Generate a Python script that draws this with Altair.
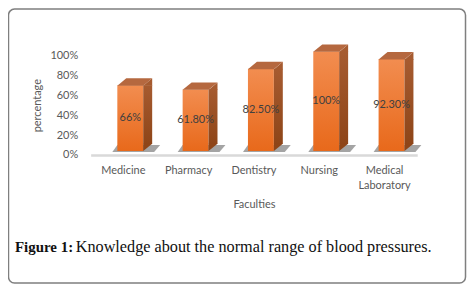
import altair as alt
import pandas as pd

categories = ["Medicine", "Pharmacy", "Dentistry", "Nursing", "Medical Laboratory"]
values = [0.66, 0.618, 0.825, 1.00, 0.923]
value_labels = ["66%", "61.80%", "82.50%", "100%", "92.30%"]
y_ticks = [0, 0.2, 0.4, 0.6, 0.8, 1.0]
caption_bold = "Figure 1:"
caption_text = "Knowledge about the normal range of blood pressures."

df = pd.DataFrame({"faculty": categories, "value": values, "label": value_labels})
one = pd.DataFrame({"a": [0]})

FONT = "Lato"
AX = "#595959"

x_enc = alt.X(
    "faculty:N",
    sort=categories,
    scale=alt.Scale(paddingInner=0, paddingOuter=0),
    axis=alt.Axis(
        title="Faculties", labelAngle=0, ticks=False, domainColor="#D9D9D9",
        domainWidth=2.5, labelPadding=10, labelExpr="split(datum.label, ' ')",
        labelLineHeight=15, titlePadding=8, labelFont=FONT, titleFont=FONT,
        labelFontSize=11, titleFontSize=11, labelColor=AX, titleColor=AX,
        titleFontWeight="normal",
    ),
)
y_axis = alt.Axis(
    title="percentage", values=y_ticks, format="%", grid=False, domain=False,
    ticks=False, labelPadding=13, titlePadding=7, labelFont=FONT, titleFont=FONT,
    labelFontSize=11, titleFontSize=11, labelColor=AX, titleColor=AX,
    titleFontWeight="normal",
)
y_scale = alt.Scale(domain=[0, 1])

base = alt.Chart(df)

shadow = base.mark_point(
    shape="M-0.55,0.05 L1.55,0.05 L1.85,-0.3 L-0.3,-0.3 Z",
    size=1600, filled=True, color="#4a4a4a", opacity=0.5, yOffset=-4,
).encode(x=x_enc, y=alt.Y(datum=0, scale=y_scale, axis=y_axis))

front = base.mark_bar(
    width=26, xOffset=7, yOffset=-4, y2Offset=-4,
    color=alt.Gradient(
        gradient="linear", x1=0, y1=0, x2=0, y2=1,
        stops=[alt.GradientStop(color="#F28D50", offset=0),
               alt.GradientStop(color="#E8691B", offset=1)],
    ),
).encode(x=x_enc, y=alt.Y("value:Q", scale=y_scale, axis=y_axis), y2=alt.Y2(datum=0))

side = base.mark_bar(
    width=9, xOffset=24.5, yOffset=-4, y2Offset=-11,
    color=alt.Gradient(
        gradient="linear", x1=0, y1=0, x2=0, y2=1,
        stops=[alt.GradientStop(color="#A65B30", offset=0),
               alt.GradientStop(color="#8E4518", offset=1)],
    ),
).encode(x=x_enc, y=alt.Y("value:Q", scale=y_scale, axis=y_axis), y2=alt.Y2(datum=0))

top_face = base.mark_point(
    shape="M-0.3,0.02 L1,0.02 L1.45,-0.35 L0.15,-0.35 Z",
    size=1600, filled=True, color="#B5683F", opacity=1, yOffset=-4,
).encode(x=x_enc, y=alt.Y("value:Q", scale=y_scale, axis=y_axis))

side_top = base.mark_point(
    shape="M1,0.03 L1.45,-0.35 L1.45,0.03 Z",
    size=1600, filled=True, color="#A65B30", opacity=1, yOffset=-4,
).encode(x=x_enc, y=alt.Y("value:Q", scale=y_scale, axis=y_axis))

side_bottom = base.mark_point(
    shape="M1,-0.36 L1,0 L1.45,-0.36 Z",
    size=1600, filled=True, color="#8E4518", opacity=1, yOffset=-4,
).encode(x=x_enc, y=alt.Y(datum=0, scale=y_scale, axis=y_axis))

labels = base.transform_calculate(mid="datum.value / 2").mark_text(
    font=FONT, fontSize=11, color="#404040", xOffset=7, yOffset=-4,
).encode(x=x_enc, y=alt.Y("mid:Q", scale=y_scale, axis=y_axis), text="label:N")

border = alt.Chart(one).mark_rect(
    fillOpacity=0, stroke="#7F7F7F", strokeWidth=1.5, cornerRadius=6,
).encode(x=alt.value(-82.5), x2=alt.value(376.5), y=alt.value(-46.5), y2=alt.value(228.5))

cap1 = alt.Chart(one).mark_text(
    text=caption_bold, font="Liberation Serif", fontSize=15, fontWeight="bold",
    align="left", baseline="alphabetic", color="#111111",
).encode(x=alt.value(-76), y=alt.value(197))

cap2 = alt.Chart(one).mark_text(
    text=caption_text, font="Liberation Serif", fontSize=16.3,
    align="left", baseline="alphabetic", color="#111111",
).encode(x=alt.value(-15), y=alt.value(197))

chart = alt.layer(
    shadow, front, side, side_bottom, top_face, side_top, labels, border, cap1, cap2
).properties(
    width=328, height=100,
    autosize=alt.AutoSizeParams(type="none"),
    padding={"left": 83, "top": 47, "right": 51, "bottom": 130},
).configure_view(strokeWidth=0)

chart.save("out.html", embed_options={"renderer": "svg", "actions": False})
